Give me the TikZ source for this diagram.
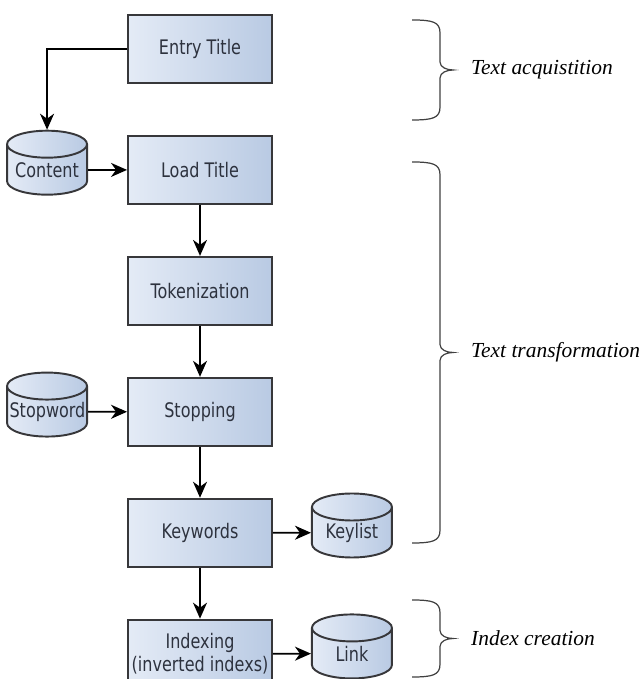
\documentclass[tikz,border=0pt]{standalone}
\usepackage{fontspec}
\setmainfont{Liberation Serif}
\newfontfamily\boxfont[FakeStretch=0.8]{DejaVu Sans}
\usetikzlibrary{arrows.meta,positioning,shapes.geometric}
\definecolor{boxlight}{RGB}{228,235,246}
\definecolor{boxdark}{RGB}{185,202,227}
\definecolor{boxline}{RGB}{55,55,58}
\definecolor{boxtext}{RGB}{45,50,62}

\tikzset{
  stage/.style={draw=boxline,line width=1.1pt,left color=boxlight,right color=boxdark,
    minimum width=2.88cm,minimum height=1.36cm,inner sep=1pt,align=center,
    text=boxtext,font=\boxfont\fontsize{11.4}{13.6}\selectfont},
  store/.style={cylinder,shape border rotate=90,aspect=0.36,draw=boxline,line width=1.1pt,
    left color=boxlight,right color=boxdark,minimum width=1.6cm,minimum height=1.28cm,
    text width=1.5cm,align=center,inner sep=0pt,text=boxtext,
    font=\boxfont\fontsize{11.4}{13.6}\selectfont},
  flow/.style={->,line width=1pt,black},
  grp/.style={line width=0.7pt,black!75},
  phase/.style={anchor=west,font=\itshape\fontsize{12.2}{14}\selectfont}
}
% right-hand brace: x of its open side, top y, bottom y
\newcommand\phasebrace[3]{%
  \pgfmathsetmacro\bmid{(#2+#3)/2}
  \draw[grp] (#1,#2) .. controls (#1+0.42,#2) and (#1+0.56,#2-0.04) .. (#1+0.56,#2-0.26)
    -- (#1+0.56,\bmid+0.16) .. controls (#1+0.56,\bmid+0.05) and (#1+0.7,\bmid) .. (#1+0.82,\bmid)
    .. controls (#1+0.7,\bmid) and (#1+0.56,\bmid-0.05) .. (#1+0.56,\bmid-0.16)
    -- (#1+0.56,#3+0.26) .. controls (#1+0.56,#3+0.04) and (#1+0.42,#3) .. (#1,#3);
}

\begin{document}
\begin{tikzpicture}[x=1cm,y=1cm,>={Stealth[length=0.32cm,width=0.28cm,inset=0.1cm]}]
    \useasboundingbox (0,0) rectangle (12.84,13.58);
    % main pipeline
    \node[stage] (entry) at (4.0,12.6) {Entry Title};
    \node[stage,below=1.02cm of entry] (load) {Load Title};
    \node[stage,below=1.02cm of load] (tok) {Tokenization};
    \node[stage,below=1.02cm of tok] (stop) {Stopping};
    \node[stage,below=1.02cm of stop] (kw) {Keywords};
    \node[stage,below=1.02cm of kw] (idx) {Indexing\\(inverted indexs)};
    % stores
    \node[store,left=0.78cm of load] (content) {Content};
    \node[store,left=0.78cm of stop] (stopw) {Stopword};
    \node[store,right=0.76cm of kw] (keyl) {Keylist};
    \node[store,right=0.76cm of idx] (link) {Link};
    % arrows
    \draw[flow] (entry.west) -| (content.north);
    \draw[flow] (content) -- (load);
    \draw[flow] (load) -- (tok);
    \draw[flow] (tok) -- (stop);
    \draw[flow] (stopw) -- (stop);
    \draw[flow] (stop) -- (kw);
    \draw[flow] (kw) -- (keyl);
    \draw[flow] (kw) -- (idx);
    \draw[flow] (idx) -- (link);
    % phases
    \phasebrace{8.24}{13.18}{11.18}
    \node[phase] (acq) at (9.3,12.18) {Text acquistition};
    \phasebrace{8.24}{10.34}{2.72}
    \node[phase] (trans) at (9.3,6.53) {Text transformation};
    \phasebrace{8.24}{1.58}{0.04}
    \node[phase] (idxc) at (9.3,0.81) {Index creation};
\end{tikzpicture}
\end{document}
